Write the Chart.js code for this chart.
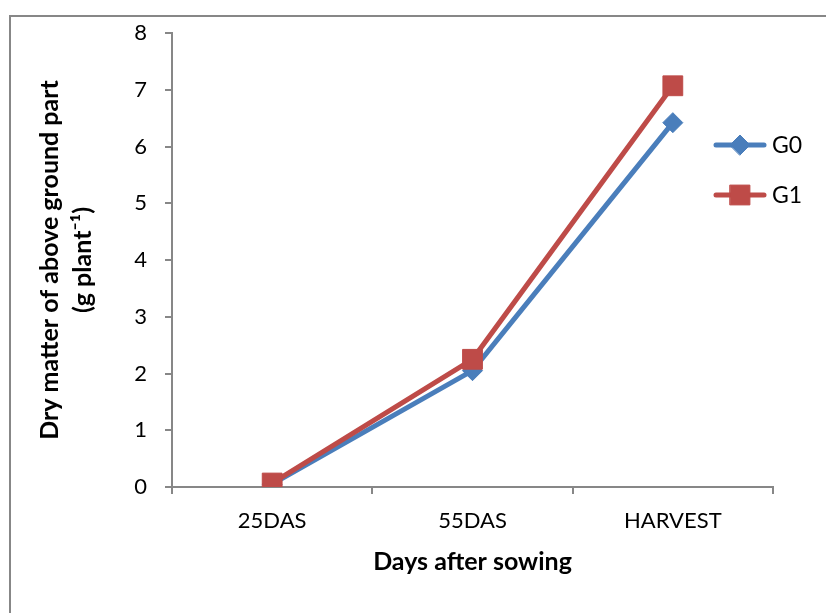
<!DOCTYPE html>
<html>
<head>
<meta charset="utf-8">
<script src="https://cdn.jsdelivr.net/npm/chart.js@4"></script>
<style>
  html, body { margin: 0; padding: 0; background: #ffffff; }
  canvas { display: block; }
</style>
</head>
<body>
<canvas id="c" width="826" height="613"></canvas>
<script>
// Sampling stages and dry matter per plant (g plant-1)
const stages = ['25DAS', '55DAS', 'HARVEST'];
const seriesNames = ['G0', 'G1'];
const g0 = [0.05, 2.05, 6.42];
const g1 = [0.07, 2.25, 7.07];
const yTicks = [0, 1, 2, 3, 4, 5, 6, 7, 8];

const BLUE = '#4A7EBB';
const RED = '#BE4B48';
const AXIS = '#878787';
const FONT = 'Lato, "Open Sans", "Liberation Sans", sans-serif';

// Frame around the whole figure
const framePlugin = {
  id: 'frame',
  beforeDraw(chart) {
    const ctx = chart.ctx;
    ctx.save();
    ctx.fillStyle = '#ffffff';
    ctx.fillRect(0, 0, chart.width, chart.height);
    ctx.strokeStyle = AXIS;
    ctx.lineWidth = 2;
    ctx.strokeRect(10, 16, chart.width + 20, chart.height + 20);
    ctx.restore();
  }
};

// Legend drawn at the right of the plot with line + marker samples
const sideLegend = {
  id: 'sideLegend',
  afterDraw(chart) {
    const ctx = chart.ctx;
    const rows = [145, 195];
    chart.data.datasets.forEach((ds, i) => {
      const y = rows[i];
      ctx.save();
      ctx.strokeStyle = ds.borderColor;
      ctx.lineWidth = ds.borderWidth;
      ctx.lineCap = 'round';
      ctx.beginPath();
      ctx.moveTo(716, y);
      ctx.lineTo(764, y);
      ctx.stroke();
      ctx.fillStyle = ds.pointBackgroundColor;
      ctx.strokeStyle = ds.pointBorderColor;
      ctx.lineWidth = 1;
      Chart.helpers.drawPoint(ctx, {
        pointStyle: ds.pointStyle,
        radius: ds.pointRadius,
        borderWidth: 1
      }, 740, y);
      ctx.fillStyle = '#000000';
      ctx.font = '23px ' + FONT;
      ctx.textAlign = 'left';
      ctx.textBaseline = 'middle';
      ctx.fillText(ds.label, 772, y + 1);
      ctx.restore();
    });
  }
};

new Chart(document.getElementById('c'), {
  type: 'line',
  data: {
    labels: stages,
    datasets: [
      {
        label: seriesNames[0],
        data: g0,
        borderColor: BLUE,
        backgroundColor: BLUE,
        pointBackgroundColor: BLUE,
        pointBorderColor: BLUE,
        borderWidth: 5,
        pointStyle: 'rectRot',
        pointRadius: 10,
        pointBorderWidth: 1,
        tension: 0,
        order: 2
      },
      {
        label: seriesNames[1],
        data: g1,
        borderColor: RED,
        backgroundColor: RED,
        pointBackgroundColor: RED,
        pointBorderColor: RED,
        borderWidth: 5,
        pointStyle: 'rect',
        pointRadius: 14,
        pointBorderWidth: 1,
        tension: 0,
        order: 1
      }
    ]
  },
  options: {
    responsive: false,
    devicePixelRatio: 1,
    animation: false,
    layout: { padding: { left: 0, right: 53, top: 33, bottom: 0 } },
    plugins: {
      legend: { display: false },
      tooltip: { enabled: false }
    },
    scales: {
      x: {
        offset: true,
        grid: {
          offset: true,
          drawOnChartArea: false,
          color: AXIS,
          lineWidth: 2,
          tickLength: 7
        },
        border: { color: AXIS, width: 2 },
        ticks: {
          color: '#000000',
          font: { family: FONT, size: 22 },
          padding: 14,
          maxRotation: 0
        },
        title: {
          display: true,
          text: 'Days after sowing',
          color: '#000000',
          font: { family: FONT, size: 25, weight: 'bold', lineHeight: 1.2 },
          padding: { top: 0, bottom: 36 }
        },
        afterFit(scale) { scale.height = 126; }
      },
      y: {
        min: 0,
        max: 8,
        afterBuildTicks(scale) { scale.ticks = yTicks.map(v => ({ value: v })); },
        grid: {
          drawOnChartArea: false,
          color: AXIS,
          lineWidth: 2,
          tickLength: 7
        },
        border: { color: AXIS, width: 2 },
        ticks: {
          color: '#000000',
          font: { family: FONT, size: 22 },
          padding: 18
        },
        title: {
          display: true,
          text: ['Dry matter of above ground part', '(g plant\u207B\u00B9)'],
          color: '#000000',
          font: { family: FONT, size: 25, weight: 'bold', lineHeight: 1.32 },
          padding: { top: 33, bottom: 0 }
        },
        afterFit(scale) { scale.width = 172; }
      }
    }
  },
  plugins: [framePlugin, sideLegend]
});
</script>
</body>
</html>
